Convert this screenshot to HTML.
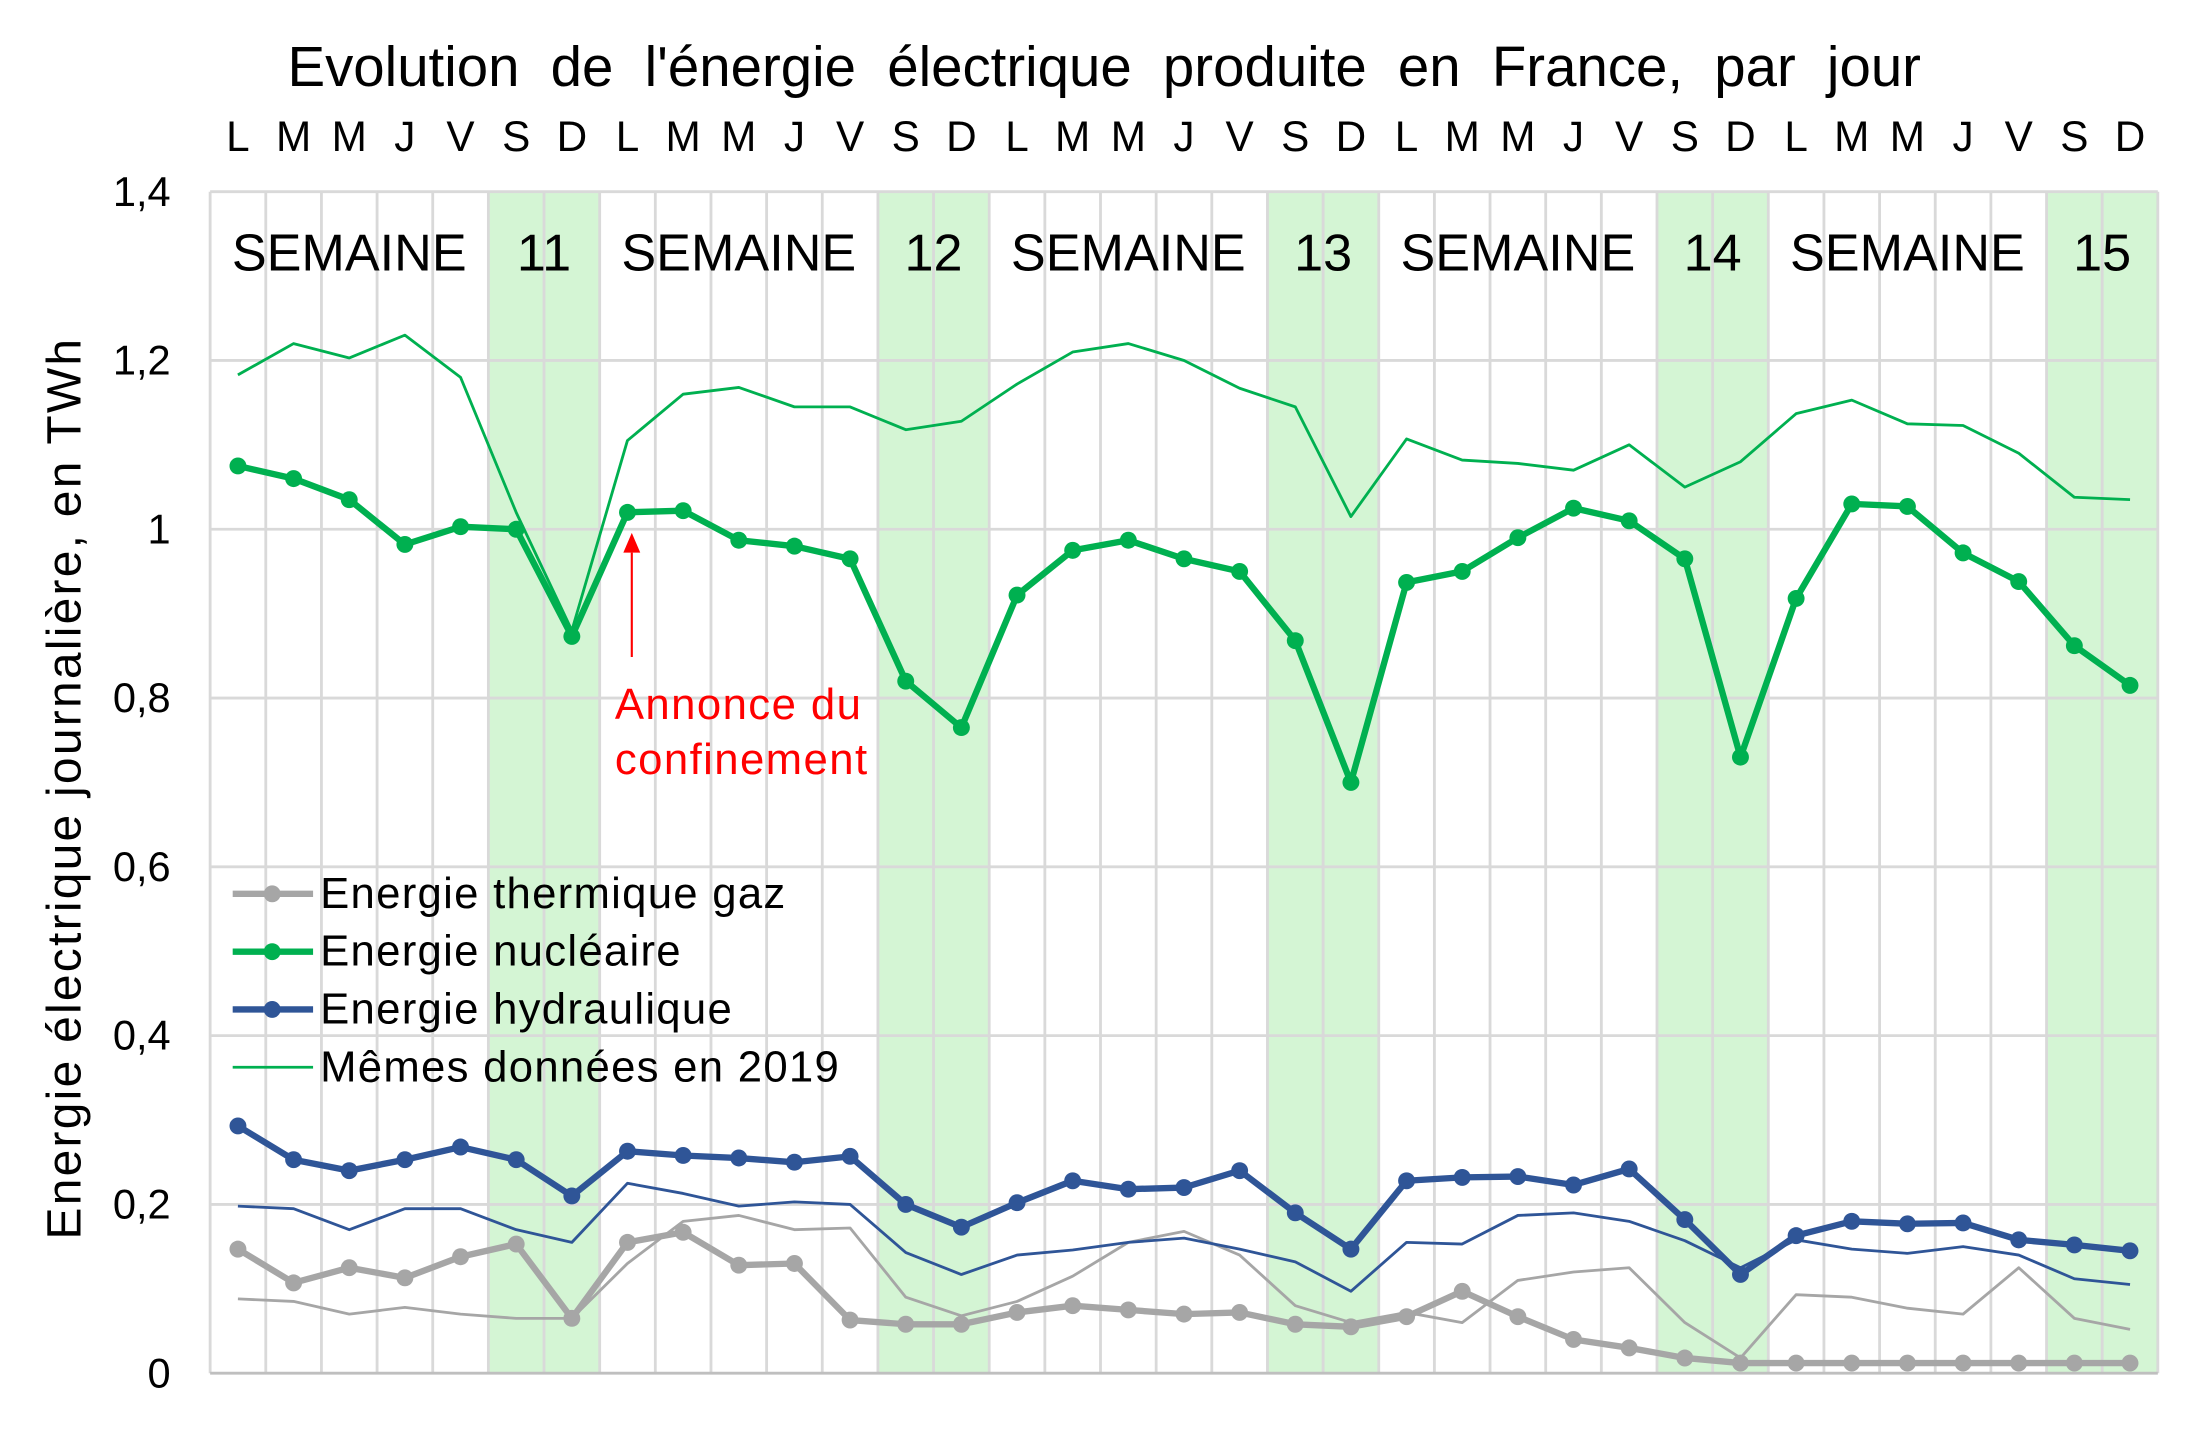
<!DOCTYPE html>
<html><head><meta charset="utf-8"><style>
html,body{margin:0;padding:0;background:#fff}
svg{display:block}
text{font-family:"Liberation Sans",sans-serif}
</style></head><body>
<svg id="c" width="2200" height="1431" viewBox="0 0 1560 1015" preserveAspectRatio="none" xmlns="http://www.w3.org/2000/svg"></svg>
<script>
const s=document.getElementById('c');let h='';
const X0=149,DW=39.46,Y0=974,K=598.6;
const x=i=>X0+DW*(i+0.5), y=v=>Y0-K*v;
h+='<rect width="1560" height="1015" fill="#fff"/>';
for(let w=0;w<5;w++){h+=`<rect x="${X0+DW*(w*7+5)}" y="136" width="${DW*2}" height="${Y0-136}" fill="#d4f5d4"/>`;}
for(let k=0;k<=35;k++){h+=`<line x1="${X0+DW*k}" y1="136" x2="${X0+DW*k}" y2="${Y0}" stroke="#d9d9d9" stroke-width="2"/>`;}
const yl=['0','0,2','0,4','0,6','0,8','1','1,2','1,4'];
for(let k=0;k<8;k++){const yy=y(k*0.2);h+=`<line x1="${X0}" y1="${yy}" x2="${X0+DW*35}" y2="${yy}" stroke="${k==0?'#bfbfbf':'#d9d9d9'}" stroke-width="2"/>`;h+=`<text x="121" y="${yy+10}" font-size="29.5" text-anchor="end">${yl[k]}</text>`;}
const days='LMMJVSD';
for(let i=0;i<35;i++)h+=`<text x="${x(i)}" y="107" font-size="30" text-anchor="middle">${days[i%7]}</text>`;
h+='<text x="783" y="61" font-size="40" text-anchor="middle" word-spacing="11">Evolution de l\'énergie électrique produite en France, par jour</text>';
h+='<text transform="translate(57,559) rotate(-90)" font-size="34" letter-spacing="1.6" text-anchor="middle">Energie électrique journalière, en TWh</text>';
for(let w=0;w<5;w++){h+=`<text x="${x(w*7+2)}" y="192" font-size="37" text-anchor="middle">SEMAINE</text><text x="${X0+DW*(w*7+6)}" y="192" font-size="37" text-anchor="middle">${11+w}</text>`;}
const N=[1.075,1.06,1.035,0.982,1.003,1.0,0.873,1.02,1.022,0.987,0.98,0.965,0.82,0.765,0.922,0.975,0.987,0.965,0.95,0.868,0.70,0.937,0.95,0.99,1.025,1.01,0.965,0.73,0.918,1.03,1.027,0.972,0.938,0.862,0.815];
const N9=[1.183,1.22,1.203,1.23,1.18,1.02,0.88,1.105,1.16,1.168,1.145,1.145,1.118,1.128,1.172,1.21,1.22,1.2,1.167,1.145,1.015,1.107,1.082,1.078,1.07,1.1,1.05,1.08,1.137,1.153,1.125,1.123,1.09,1.038,1.035];
const H=[0.293,0.253,0.24,0.253,0.268,0.253,0.21,0.263,0.258,0.255,0.25,0.257,0.2,0.173,0.202,0.228,0.218,0.22,0.24,0.19,0.147,0.228,0.232,0.233,0.223,0.242,0.182,0.117,0.163,0.18,0.177,0.178,0.158,0.152,0.145];
const H9=[0.198,0.195,0.17,0.195,0.195,0.17,0.155,0.225,0.213,0.198,0.203,0.2,0.143,0.117,0.14,0.146,0.155,0.16,0.147,0.132,0.097,0.155,0.153,0.187,0.19,0.18,0.157,0.125,0.158,0.147,0.142,0.15,0.14,0.112,0.105];
const G=[0.147,0.107,0.125,0.113,0.138,0.153,0.065,0.155,0.167,0.128,0.13,0.063,0.058,0.058,0.072,0.08,0.075,0.07,0.072,0.058,0.055,0.067,0.097,0.067,0.04,0.03,0.018,0.012,0.012,0.012,0.012,0.012,0.012,0.012,0.012];
const G9=[0.088,0.085,0.07,0.078,0.07,0.065,0.065,0.13,0.18,0.187,0.17,0.172,0.09,0.068,0.085,0.115,0.155,0.168,0.14,0.08,0.06,0.072,0.06,0.11,0.12,0.125,0.06,0.018,0.093,0.09,0.077,0.07,0.125,0.065,0.052];
function line(d,c,w,dots){let p=d.map((v,i)=>x(i).toFixed(1)+','+y(v).toFixed(1)).join(' ');let r=`<polyline points="${p}" fill="none" stroke="${c}" stroke-width="${w}" stroke-linejoin="round"/>`;if(dots)d.forEach((v,i)=>r+=`<circle cx="${x(i)}" cy="${y(v)}" r="6" fill="${c}"/>`);return r;}
h+=line(G9,'#a6a6a6',2,false)+line(H9,'#2f5597',2,false)+line(N9,'#00b050',2,false);
h+=line(G,'#a6a6a6',4.5,true)+line(H,'#2f5597',4.5,true)+line(N,'#00b050',4.5,true);
const L=[['Energie thermique gaz','#a6a6a6',4.5,1],['Energie nucléaire','#00b050',4.5,1],['Energie hydraulique','#2f5597',4.5,1],['Mêmes données en 2019','#00b050',2,0]];
L.forEach((l,k)=>{const yy=634+41*k;h+=`<line x1="165" y1="${yy}" x2="222" y2="${yy}" stroke="${l[1]}" stroke-width="${l[2]}"/>`;if(l[3])h+=`<circle cx="193" cy="${yy}" r="6" fill="${l[1]}"/>`;h+=`<text x="227" y="${yy+10}" font-size="31" letter-spacing="0.9">${l[0]}</text>`;});
h+='<line x1="448" y1="466" x2="448" y2="392" stroke="#ff0000" stroke-width="1.5"/><polygon points="448,378 442,392 454,392" fill="#ff0000"/>';
h+='<text x="436" y="510" font-size="31" letter-spacing="1" fill="#ff0000">Annonce du</text><text x="436" y="549" font-size="31" letter-spacing="1" fill="#ff0000">confinement</text>';
s.innerHTML=h;
</script>
</body></html>
